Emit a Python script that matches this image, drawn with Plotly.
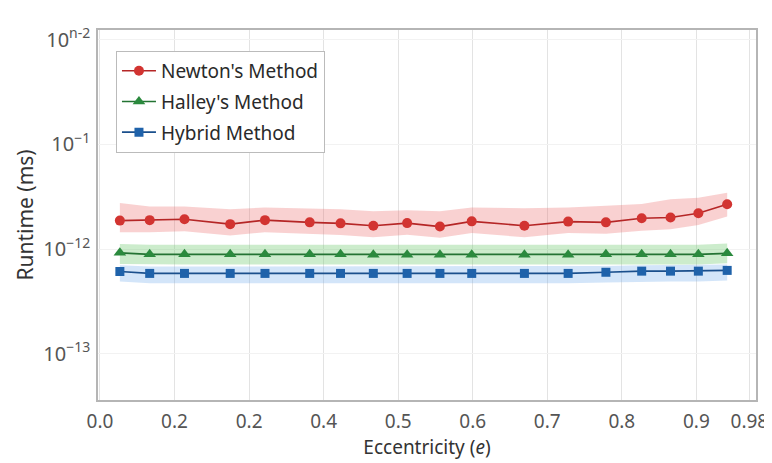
import plotly.graph_objects as go

# ---- data ----
ecc = [0.03, 0.075, 0.1275, 0.1965, 0.249, 0.3165, 0.363, 0.4125, 0.4635, 0.513,
       0.561, 0.6405, 0.7065, 0.7635, 0.8175, 0.861, 0.903, 0.9465]

newton = [1.87, 1.89, 1.93, 1.73, 1.89, 1.80, 1.76, 1.67, 1.77, 1.64,
          1.84, 1.67, 1.83, 1.80, 1.97, 2.00, 2.20, 2.68]
newton_hi = [2.75, 2.55, 2.55, 2.4, 2.5, 2.45, 2.4, 2.3, 2.35, 2.3,
             2.5, 2.45, 2.5, 2.6, 2.7, 3.0, 3.1, 3.45]
newton_lo = [1.45, 1.45, 1.48, 1.35, 1.45, 1.4, 1.36, 1.3, 1.37, 1.28,
             1.42, 1.3, 1.42, 1.4, 1.5, 1.55, 1.7, 2.05]

halley = [0.92, 0.89, 0.89, 0.89, 0.89, 0.89, 0.89, 0.88, 0.88, 0.88,
          0.88, 0.88, 0.88, 0.89, 0.89, 0.89, 0.89, 0.91]
halley_hi = [1.12, 1.1, 1.1, 1.1, 1.1, 1.1, 1.1, 1.09, 1.09, 1.09,
             1.09, 1.09, 1.09, 1.1, 1.1, 1.1, 1.1, 1.13]
halley_lo = [0.72, 0.71, 0.71, 0.71, 0.71, 0.71, 0.71, 0.7, 0.7, 0.7,
             0.7, 0.7, 0.7, 0.71, 0.71, 0.71, 0.71, 0.73]

hybrid = [0.61, 0.585, 0.585, 0.585, 0.585, 0.585, 0.585, 0.585, 0.585, 0.585,
          0.585, 0.585, 0.585, 0.6, 0.615, 0.615, 0.615, 0.625]
hybrid_hi = [0.7, 0.68, 0.68, 0.68, 0.68, 0.68, 0.68, 0.68, 0.68, 0.68,
             0.68, 0.68, 0.68, 0.69, 0.7, 0.7, 0.7, 0.71]
hybrid_lo = [0.49, 0.47, 0.47, 0.47, 0.47, 0.47, 0.47, 0.47, 0.47, 0.47,
             0.47, 0.47, 0.47, 0.48, 0.49, 0.49, 0.49, 0.5]

scale = 1e-12  # values above are in units of 1e-12 ms

x_tickvals = [0, 0.1125, 0.225, 0.3375, 0.45, 0.5625, 0.675, 0.7875, 0.9, 0.98]
x_ticktext = ['0.0', '0.2', '0.2', '0.4', '0.5', '0.6', '0.7', '0.8', '0.9', '0.98']
y_tickvals = [1e-10, 1e-11, 1e-12, 1e-13]
y_ticktext = ['10<sup>n-2</sup>', '10<sup>\u22121</sup>', '10<sup>\u221212</sup>', '10<sup>\u221213</sup>']

series = [
    ("Newton's Method", newton, newton_hi, newton_lo, '#d23431', '#b52626',
     'rgba(235,90,90,0.28)', 'circle', 10),
    ("Halley's Method", halley, halley_hi, halley_lo, '#2b8a3e', '#237333',
     'rgba(110,200,110,0.35)', 'triangle-up', 11),
    ("Hybrid Method", hybrid, hybrid_hi, hybrid_lo, '#1f62aa', '#1a4f8c',
     'rgba(110,170,235,0.30)', 'square', 9),
]

fig = go.Figure()
for name, mid, hi, lo, mcol, lcol, fcol, sym, size in series:
    fig.add_trace(go.Scatter(x=ecc, y=[v * scale for v in hi], mode='lines',
                             line=dict(width=0), showlegend=False, hoverinfo='skip',
                             legendgroup=name))
    fig.add_trace(go.Scatter(x=ecc, y=[v * scale for v in lo], mode='lines',
                             line=dict(width=0), fill='tonexty', fillcolor=fcol,
                             showlegend=False, hoverinfo='skip', legendgroup=name))
for name, mid, hi, lo, mcol, lcol, fcol, sym, size in series:
    fig.add_trace(go.Scatter(x=ecc, y=[v * scale for v in mid], mode='lines+markers',
                             name=name, legendgroup=name,
                             line=dict(color=lcol, width=1.6),
                             marker=dict(symbol=sym, size=size, color=mcol)))

font_family = 'Noto Sans, DejaVu Sans, sans-serif'
fig.update_layout(
    width=772, height=463,
    margin=dict(l=90, r=20, t=22, b=71),
    paper_bgcolor='white', plot_bgcolor='white',
    font=dict(family=font_family, size=19, color='#333'),
    legend=dict(x=0.027, y=0.944, xanchor='left', yanchor='top',
                bgcolor='white', bordercolor='#bbbbbb', borderwidth=1.2,
                font=dict(size=19, color='#2a2a2a'), itemwidth=34,
                traceorder='grouped', tracegroupgap=3),
)
fig.update_xaxes(
    range=[-0.003, 0.99], tickvals=x_tickvals, ticktext=x_ticktext,
    showgrid=True, gridcolor='#e3e3e3', gridwidth=1,
    showline=True, linecolor='#b5b5b5', linewidth=1.5, mirror=True,
    ticks='outside', ticklen=3, tickcolor='rgba(0,0,0,0)',
    tickfont=dict(size=19, color='#555'),
    title=dict(text='Eccentricity (<i>e</i>)', font=dict(size=19, color='#333'), standoff=1),
    zeroline=False,
)
fig.update_yaxes(
    type='log', range=[-13.443, -9.906],
    tickvals=y_tickvals, ticktext=y_ticktext,
    showgrid=True, gridcolor='#f2f2f2', gridwidth=1,
    showline=True, linecolor='#b5b5b5', linewidth=1.5, mirror=True,
    ticks='outside', ticklen=2, tickcolor='rgba(0,0,0,0)',
    tickfont=dict(size=20, color='#555'),
    title=dict(text='Runtime (ms)', font=dict(size=21, color='#333'), standoff=4),
    zeroline=False,
)

fig.write_html("out.html")
